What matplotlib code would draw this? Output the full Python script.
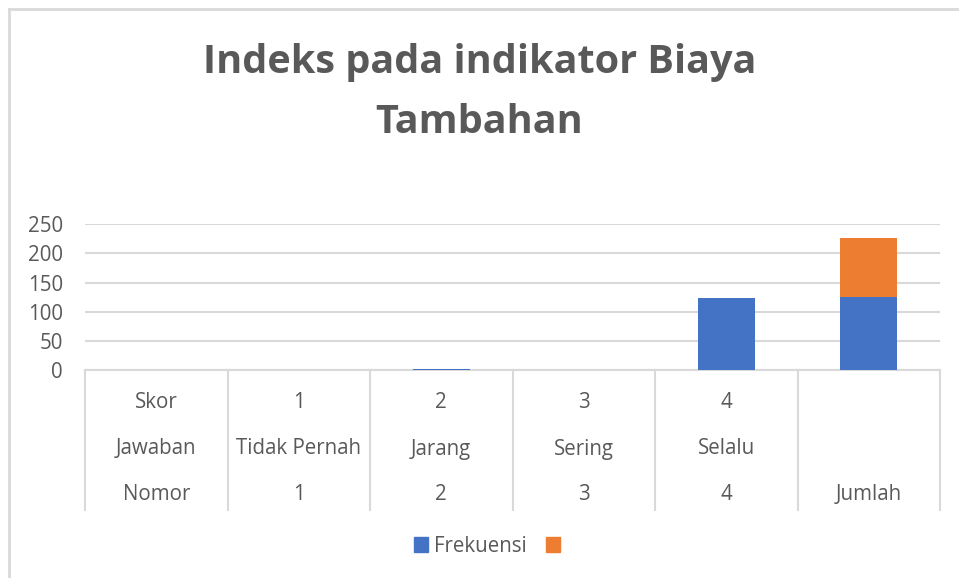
import matplotlib
matplotlib.use("Agg")
import matplotlib.pyplot as plt
from matplotlib.lines import Line2D
from matplotlib.patches import Patch
from matplotlib.transforms import blended_transform_factory

# ---- data ----
row_skor = ["Skor", "1", "2", "3", "4", ""]
row_jawaban = ["Jawaban", "Tidak Pernah", "Jarang", "Sering", "Selalu", ""]
row_nomor = ["Nomor", "1", "2", "3", "4", "Jumlah"]
frekuensi = [0, 0, 2, 0, 123, 125]
series2 = [0, 0, 0, 0, 0, 101]
yticks = [0, 50, 100, 150, 200, 250]
title = "Indeks pada indikator Biaya\nTambahan"

W, H = 959, 578
fig = plt.figure(figsize=(W / 100, H / 100), dpi=100)
plt.rcParams['font.family'] = ['Open Sans', 'DejaVu Sans']
TXT = "#595959"
GRID = "#d9d9d9"
BLUE = "#4472c4"
ORANGE = "#ed7d31"
FS = 14.8

# chart border (left/top visible)
fig.add_artist(Line2D([9 / W, 9 / W], [0, 1 - 9 / H], transform=fig.transFigure, color=GRID, lw=2))
fig.add_artist(Line2D([9 / W, 1], [1 - 9 / H, 1 - 9 / H], transform=fig.transFigure, color=GRID, lw=2))

left, right, top, bottom = 85, 940, 224.3, 370
ax = fig.add_axes([left / W, 1 - bottom / H, (right - left) / W, (bottom - top) / H])

x = list(range(len(frekuensi)))
ax.bar(x, frekuensi, width=0.4, color=BLUE, zorder=3)
ax.bar(x, series2, width=0.4, bottom=frekuensi, color=ORANGE, zorder=3)

ax.set_xlim(-0.5, len(x) - 0.5)
ax.set_ylim(0, 250)
ax.set_yticks(yticks)
ax.set_yticklabels([str(v) for v in yticks], fontsize=FS, color=TXT)
ax.tick_params(axis='y', length=0, pad=16)
ax.set_xticks([])
for s in ['top', 'right', 'left']:
    ax.spines[s].set_visible(False)
ax.spines['bottom'].set_color(GRID)
ax.spines['bottom'].set_linewidth(1.5)
ax.yaxis.grid(True, color=GRID, lw=1.5, zorder=0)
ax.set_axisbelow(True)

# multi-level category table
tr = blended_transform_factory(ax.transData, fig.transFigure)
for k in range(len(x) + 1):
    xv = k - 0.5
    ax.add_artist(Line2D([xv, xv], [1 - 370 / H, 1 - 510 / H], transform=tr,
                         color=GRID, lw=1.5, clip_on=False))
for rowvals, ypix in [(row_skor, 403), (row_jawaban, 449), (row_nomor, 495)]:
    for xi, lab in zip(x, rowvals):
        ax.text(xi, 1 - ypix / H, lab, transform=tr, ha='center', va='center',
                fontsize=FS, color=TXT, clip_on=False)

fig.text(0.5, 1 - 92.5 / H, title, ha='center', va='center', fontsize=28.5,
         fontweight='bold', color=TXT, linespacing=1.70)

handles = [Patch(color=BLUE), Patch(color=ORANGE)]
fig.legend(handles, ["Frekuensi", ""], loc='center', bbox_to_anchor=(490 / W, 1 - 546 / H),
           ncol=2, frameon=False, fontsize=FS, labelcolor=TXT,
           handlelength=0.7, handleheight=0.7, handletextpad=0.3, columnspacing=0.9)

fig.savefig("out.png", dpi=100, facecolor="white")
